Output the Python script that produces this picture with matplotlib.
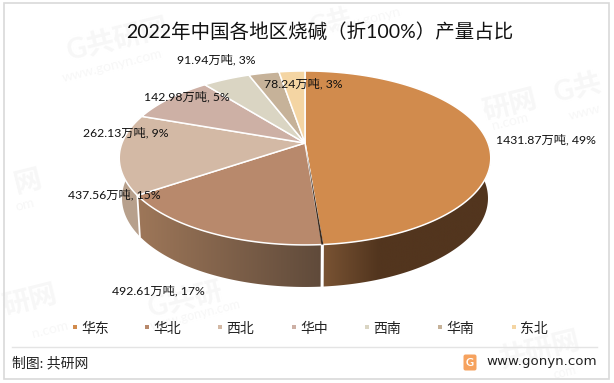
"""2022 China caustic soda output by region, drawn as a tilted pie."""

import matplotlib

matplotlib.use("Agg")

import matplotlib.pyplot as plt
import numpy as np
from matplotlib.colors import LinearSegmentedColormap
from matplotlib.patches import FancyBboxPatch, Polygon, Rectangle

plt.rcParams["font.family"] = ["Lato", "Noto Sans CJK SC", "DejaVu Sans"]

REGIONS = ["华东", "华北", "西北", "华中", "西南", "华南", "东北"]
OUTPUT = [1431.87, 492.61, 437.56, 262.13, 142.98, 91.94, 78.24]

COLORS = ["#D18B4D", "#B8896C", "#D3B9A5", "#CDB0A5", "#DAD5C3", "#C6B299", "#F4D5A3"]
LABEL_XY = [(546, 140), (158, 291), (114, 195), (126, 133), (187, 97), (216, 60), (303, 84)]
LEGEND_X = [74, 146, 219, 293, 366, 439, 513]

# (text, x, y, size) for the faint background stamps
STAMPS = [
    ("G共研网", 118, 40, 25),
    ("www.gonyn.com", 112, 66, 10),
    ("研网", 510, 105, 25),
    ("n.com", 510, 122, 10),
    ("G共", 578, 88, 25),
    ("www", 585, 112, 10),
    ("网", 28, 182, 25),
    ("om", 25, 205, 10),
    ("G", 130, 165, 25),
    ("G共", 330, 22, 22),
    ("www.gonyn", 365, 20, 10),
    ("研网", 30, 300, 25),
    ("n.com", 50, 330, 10),
    ("G共研", 185, 300, 25),
    ("www.gonyn.com", 195, 315, 9),
    ("共研网", 540, 350, 25),
    ("com", 565, 372, 9),
]

# perspective of the pie in pixels
CX, CY = 305, 143
A, B, K = 183, 84.4, 0.172
DEPTH = 40


def top_xy(theta):
    """Project clockwise-from-north angles onto the pie's top face."""
    den = 1 + K * np.cos(theta)
    return CX + A * np.sin(theta) / den, CY - B * np.cos(theta) / den


def bottom_xy(theta):
    den = 1 + K * np.cos(theta)
    return CX + 0.985 * A * np.sin(theta) / den, CY + DEPTH - 1.02 * B * np.cos(theta) / den


def wall_outline(lo, hi):
    theta = np.linspace(lo, hi, 150)
    xt, yt = top_xy(theta)
    xb, yb = bottom_xy(theta[::-1])
    return np.column_stack([np.r_[xt, xb], np.r_[yt, yb]])


def shaded_wall(ax, lo, hi, colors):
    """Fill one side wall with a left-to-right gradient clipped to its outline."""
    pts = wall_outline(lo, hi)
    patch = Polygon(pts, closed=True, facecolor="none", edgecolor="none", zorder=2)
    ax.add_patch(patch)
    cmap = LinearSegmentedColormap.from_list("wall", colors)
    grad = np.linspace(0, 1, 256).reshape(1, -1)
    extent = (pts[:, 0].min(), pts[:, 0].max(), pts[:, 1].max(), pts[:, 1].min())
    img = ax.imshow(grad, cmap=cmap, extent=extent, aspect="auto", zorder=2, interpolation="bilinear")
    img.set_clip_path(patch)


fig = plt.figure(figsize=(6.14, 3.83), dpi=100)
ax = fig.add_axes([0, 0, 1, 1])
ax.axis("off")

for text, sx, sy, size in STAMPS:
    ax.text(sx, sy, text, fontsize=size * 0.8 if size > 15 else size, color="#F7F7F7", rotation=14,
            weight="bold" if size > 15 else "normal", ha="center", va="center", zorder=0)

ax.add_patch(Rectangle((4, 3), 605, 376, fill=False, edgecolor="#D9D9D9", lw=1.2, zorder=1))
ax.plot([12, 597], [346.5, 346.5], color="#E4E4E4", lw=1, zorder=1)

fractions = np.array(OUTPUT) / sum(OUTPUT)
edges = np.concatenate([[0], np.cumsum(fractions)]) * 2 * np.pi

# side walls first
shaded_wall(ax, np.radians(85), edges[1], ["#7A5434", "#52351E", "#52351E", "#52351E"])
shaded_wall(ax, edges[1], edges[2], ["#9E7759", "#5F4A3A"])
ax.add_patch(Polygon(wall_outline(edges[2], np.radians(272)), closed=True, facecolor="#B7A08C",
                     edgecolor="none", zorder=2))

# white gaps between the walls
for edge, width in zip(edges[1:3], [2.2, 1.3]):
    xa, ya = top_xy(edge)
    xb, yb = bottom_xy(edge)
    ax.plot([xa, xb], [ya, yb], color="white", lw=width, zorder=3)

# top faces
for i, color in enumerate(COLORS):
    theta = np.linspace(edges[i], edges[i + 1], 120)
    xs, ys = top_xy(theta)
    pts = np.column_stack([np.r_[CX, xs], np.r_[CY, ys]])
    ax.add_patch(Polygon(pts, closed=True, facecolor=color, edgecolor="white", lw=1.1,
                         joinstyle="round", zorder=4))

# dark sliver where the first slice pulls away from the second
xe, ye = top_xy(edges[1])
ax.add_patch(Polygon([(CX + 1, CY + 5), (xe + 1, ye), (xe - 1, ye)], facecolor="#3A2A1E",
                     edgecolor="none", zorder=5))

for value, frac, (lx, ly) in zip(OUTPUT, fractions, LABEL_XY):
    ax.text(lx, ly, f"{value:.2f}万吨, {frac * 100:.0f}%", fontsize=8.8, color="#111111",
            ha="center", va="center", zorder=6)

ax.text(320, 32, "2022年中国各地区烧碱（折100%）产量占比", fontsize=14, color="#111111",
        ha="center", va="center", zorder=6)

for name, color, lx in zip(REGIONS, COLORS, LEGEND_X):
    ax.add_patch(Rectangle((lx - 1.5, 325), 4, 4, facecolor=color, edgecolor="none", zorder=6))
    ax.text(lx + 7, 328, name, fontsize=10, color="#222222", ha="left", va="center", zorder=6)

ax.text(12, 363, "制图: 共研网", fontsize=10, color="#222222", ha="left", va="center", zorder=6)
ax.text(597, 361, "www.gonyn.com", fontsize=9.6, color="#222222", family="DejaVu Sans",
        ha="right", va="center", zorder=6)
ax.add_patch(FancyBboxPatch((464, 355), 12, 15, boxstyle="round,pad=0.5,rounding_size=2",
                            facecolor="#F6A25E", edgecolor="none", zorder=6))
ax.text(470, 362.5, "G", fontsize=8, color="white", weight="bold", ha="center", va="center", zorder=7)

# imshow resets the limits, so fix the pixel frame last
ax.set_xlim(0, 614)
ax.set_ylim(383, 0)

fig.savefig("out.png", dpi=100)
